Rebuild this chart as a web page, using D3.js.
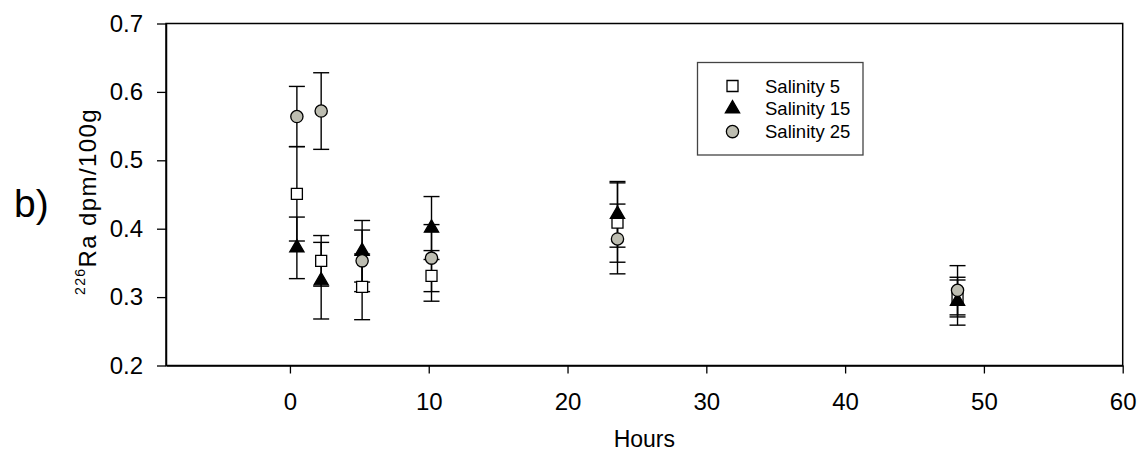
<!DOCTYPE html>
<html>
<head>
<meta charset="utf-8">
<script src="https://cdn.jsdelivr.net/npm/d3@7"></script>
<style>
  body { margin: 0; background: #fff; }
  text { font-family: "Liberation Sans", Arial, sans-serif; fill: #000; }
</style>
</head>
<body>
<div class="canvas"></div>
<script>
// data
const hours = [0.5, 2.25, 5.2, 10.2, 23.6, 48.1];
const sal5 = [0.451, 0.353, 0.315, 0.331, 0.409, 0.298];
const sal5Err = [0.069, 0.037, 0.048, 0.037, 0.058, 0.027];
const sal15 = [0.372, 0.324, 0.367, 0.401, 0.421, 0.294];
const sal15Err = [0.045, 0.056, 0.045, 0.046, 0.048, 0.035];
const sal25 = [0.564, 0.572, 0.353, 0.357, 0.385, 0.310];
const sal25Err = [0.044, 0.056, 0.045, 0.049, 0.051, 0.036];
const xTicks = [0, 10, 20, 30, 40, 50, 60];
const yTicks = [0.2, 0.3, 0.4, 0.5, 0.6, 0.7];
const seriesNames = ["Salinity 5", "Salinity 15", "Salinity 25"];

const dims = { width: 1143, height: 455 };
const plot = { left: 166, right: 1122.7, top: 23.5, bottom: 365.5 };

const svg = d3
  .select(".canvas")
  .append("svg")
  .attr("width", dims.width)
  .attr("height", dims.height);

const x = d3.scaleLinear().domain([-8.93, 60]).range([plot.left, plot.right]);
const y = d3.scaleLinear().domain([0.2, 0.7]).range([plot.bottom, plot.top]);

// series setup
const series = [
  { name: seriesNames[0], vals: sal5, err: sal5Err, shape: d3.symbolSquare, size: 121, fill: "#fff" },
  { name: seriesNames[1], vals: sal15, err: sal15Err, shape: d3.symbolTriangle, size: 88, fill: "#000" },
  { name: seriesNames[2], vals: sal25, err: sal25Err, shape: d3.symbolCircle, size: 118, fill: "#bdbdb1" },
];

// frame
svg
  .append("rect")
  .attr("x", plot.left)
  .attr("y", plot.top)
  .attr("width", plot.right - plot.left)
  .attr("height", plot.bottom - plot.top)
  .attr("fill", "none")
  .attr("stroke", "#000")
  .attr("stroke-width", 1.5);

// axes
const xAxis = d3
  .axisBottom(x)
  .tickValues(xTicks)
  .tickSize(8)
  .tickSizeOuter(0)
  .tickPadding(19)
  .tickFormat(d3.format("d"));

const yAxis = d3
  .axisLeft(y)
  .tickValues(yTicks)
  .tickSize(9)
  .tickSizeOuter(0)
  .tickPadding(14)
  .tickFormat(d3.format(".1f"));

const xG = svg
  .append("g")
  .attr("transform", `translate(0,${plot.bottom})`)
  .call(xAxis);

const yG = svg
  .append("g")
  .attr("transform", `translate(${plot.left},0)`)
  .call(yAxis);

[xG, yG].forEach((g) => {
  g.select(".domain").attr("stroke", "#000").attr("stroke-width", 1.5);
  g.selectAll(".tick line").attr("stroke", "#000").attr("stroke-width", 1.3);
  g.selectAll(".tick text")
    .attr("font-size", 24)
    .attr("font-family", '"Liberation Sans", Arial, sans-serif')
    .attr("fill", "#000");
});

// axis titles
svg
  .append("text")
  .attr("x", (plot.left + plot.right) / 2)
  .attr("y", 447)
  .attr("text-anchor", "middle")
  .attr("font-size", 23)
  .text("Hours");

const yTitle = svg
  .append("text")
  .attr("transform", "translate(95.5,201.5) rotate(-90)")
  .attr("text-anchor", "middle")
  .attr("font-size", 24)
  .attr("letter-spacing", 1.4);
yTitle.append("tspan").attr("font-size", 14).attr("dy", -11).text("226");
yTitle.append("tspan").attr("dy", 11).text("Ra dpm/100g");

svg
  .append("text")
  .attr("x", 14)
  .attr("y", 217)
  .attr("font-size", 39)
  .text("b)");

// error bars, drawn first so markers sit on top
const cap = 8;
const graph = svg.append("g");

series.forEach((s) => {
  const rows = hours.map((h, i) => ({ h, v: s.vals[i], e: s.err[i] }));
  const bars = graph
    .append("g")
    .attr("stroke", "#000")
    .attr("stroke-width", 1.4)
    .selectAll("g")
    .data(rows)
    .enter()
    .append("g");

  bars
    .append("line")
    .attr("x1", (d) => x(d.h))
    .attr("x2", (d) => x(d.h))
    .attr("y1", (d) => y(d.v + d.e))
    .attr("y2", (d) => y(d.v - d.e));

  bars
    .selectAll(".cap")
    .data((d) => [
      { h: d.h, v: d.v + d.e },
      { h: d.h, v: d.v - d.e },
    ])
    .enter()
    .append("line")
    .attr("class", "cap")
    .attr("x1", (d) => x(d.h) - cap)
    .attr("x2", (d) => x(d.h) + cap)
    .attr("y1", (d) => y(d.v))
    .attr("y2", (d) => y(d.v));
});

// markers
series.forEach((s) => {
  const sym = d3.symbol().type(s.shape).size(s.size);
  graph
    .append("g")
    .selectAll("path")
    .data(hours.map((h, i) => ({ h, v: s.vals[i] })))
    .enter()
    .append("path")
    .attr("d", sym)
    .attr("transform", (d) => `translate(${x(d.h)},${y(d.v)})`)
    .attr("fill", s.fill)
    .attr("stroke", "#000")
    .attr("stroke-width", 1.3);
});

// legend
const legendGroup = svg.append("g").attr("transform", "translate(697.5,62.5)");

legendGroup
  .append("rect")
  .attr("width", 165.5)
  .attr("height", 92.5)
  .attr("fill", "#fff")
  .attr("stroke", "#444")
  .attr("stroke-width", 1.3);

const items = legendGroup
  .selectAll(".item")
  .data(series)
  .enter()
  .append("g")
  .attr("class", "item")
  .attr("transform", (d, i) => `translate(0,${23.5 + i * 22.8})`);

items
  .append("path")
  .attr("d", (d) => d3.symbol().type(d.shape).size(d.size)())
  .attr("transform", "translate(35,0)")
  .attr("fill", (d) => d.fill)
  .attr("stroke", "#000")
  .attr("stroke-width", 1.3);

items
  .append("text")
  .attr("x", 67.5)
  .attr("y", 6.5)
  .attr("font-size", 18.5)
  .text((d) => d.name);
</script>
</body>
</html>
